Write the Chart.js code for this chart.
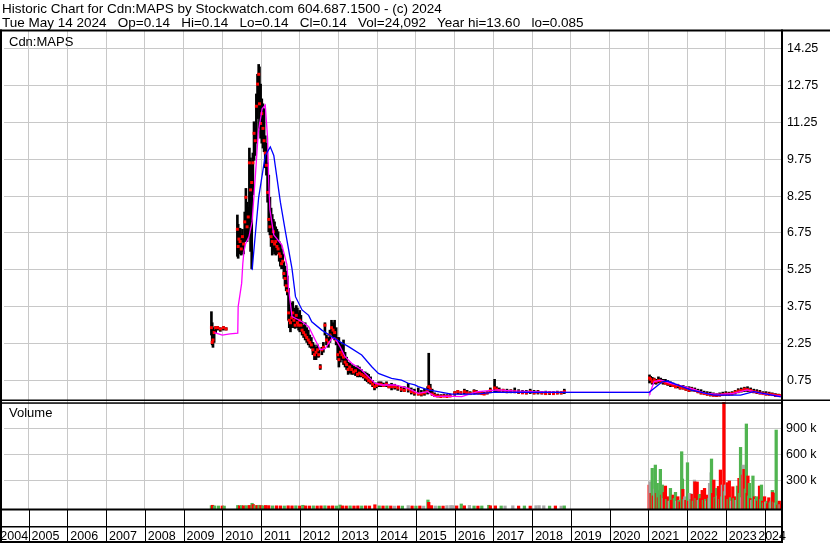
<!DOCTYPE html>
<html>
<head>
<meta charset="utf-8">
<title>Historic Chart Cdn:MAPS</title>
<script src="https://cdn.jsdelivr.net/npm/chart.js@4.4.1/dist/chart.umd.min.js"></script>
<style>
	body { margin: 0; background: #fff; }
	#root { position: relative; width: 830px; height: 543px; overflow: hidden; }
	.hdr { position: absolute; left: 2px; font: 13.5px 'Liberation Sans', Arial, sans-serif; line-height: 16px; white-space: pre; color: #000; }
</style>
</head>
<body>
<div id="root">
	<canvas id="main-chart" width="830" height="543"></canvas>
	<div class="hdr" style="top:1px">Historic Chart for Cdn:MAPS by Stockwatch.com 604.687.1500 - (c) 2024</div>
	<div class="hdr" style="top:14.5px">Tue May 14 2024   Op=0.14   Hi=0.14   Lo=0.14   Cl=0.14   Vol=24,092   Year hi=13.60   lo=0.085</div>
</div>
<script>
// tick labels
var yearTicks = [2005, 2006, 2007, 2008, 2009, 2010, 2011, 2012, 2013, 2014, 2015, 2016, 2017, 2018, 2019, 2020, 2021, 2022, 2023, 2024];
var yearLabels = ['2004', '2005', '2006', '2007', '2008', '2009', '2010', '2011', '2012', '2013', '2014', '2015', '2016', '2017', '2018', '2019', '2020', '2021', '2022', '2023', '2024'];
var priceTicks = [0.75, 1.5, 2.25, 3, 3.75, 4.5, 5.25, 6, 6.75, 7.5, 8.25, 9, 9.75, 10.5, 11.25, 12, 12.75, 13.5, 14.25];
var volTicks = [300, 600, 900];

// price bars (decimal year, high, low, close)
var barYears = [
	2009.72, 2009.74, 2009.76, 2009.79, 2009.83, 2009.88, 2009.95, 2010.03, 2010.10,
	2010.39, 2010.41, 2010.43, 2010.46, 2010.49, 2010.52, 2010.55, 2010.58, 2010.61, 2010.64, 2010.67, 2010.70, 2010.73, 2010.76, 2010.79, 2010.82, 2010.85, 2010.88, 2010.91, 2010.94, 2010.96, 2010.99,
	2011.02, 2011.05, 2011.08, 2011.11, 2011.14, 2011.17, 2011.20, 2011.23, 2011.26, 2011.29, 2011.32, 2011.35, 2011.38, 2011.41, 2011.44, 2011.47, 2011.50, 2011.53, 2011.56, 2011.59, 2011.62, 2011.65, 2011.68, 2011.71, 2011.73, 2011.76, 2011.79, 2011.82, 2011.85, 2011.88, 2011.91, 2011.94, 2011.97,
	2012.00, 2012.03, 2012.06, 2012.10, 2012.14, 2012.18, 2012.22, 2012.26, 2012.30, 2012.34, 2012.38, 2012.42, 2012.46, 2012.49, 2012.53, 2012.57, 2012.61, 2012.65, 2012.69, 2012.74, 2012.78, 2012.82, 2012.86, 2012.90, 2012.94, 2012.98,
	2013.01, 2013.05, 2013.09, 2013.13, 2013.17, 2013.21, 2013.25, 2013.29, 2013.34, 2013.39, 2013.44, 2013.49, 2013.54, 2013.59, 2013.64, 2013.69, 2013.74, 2013.78, 2013.83, 2013.88, 2013.93, 2013.98,
	2014.04, 2014.10, 2014.16, 2014.24, 2014.30, 2014.37, 2014.45, 2014.53, 2014.62, 2014.70, 2014.80, 2014.88, 2014.96,
	2015.06, 2015.14, 2015.22, 2015.30, 2015.33, 2015.37, 2015.42, 2015.48, 2015.56, 2015.64, 2015.72, 2015.80, 2015.88,
	2016.00, 2016.08, 2016.16, 2016.25, 2016.32, 2016.40, 2016.50, 2016.56, 2016.62, 2016.70, 2016.76, 2016.84, 2016.92,
	2017.03, 2017.08, 2017.15, 2017.25, 2017.35, 2017.45, 2017.55, 2017.65, 2017.75, 2017.85, 2017.95,
	2018.05, 2018.15, 2018.25, 2018.35, 2018.45, 2018.55, 2018.65, 2018.75, 2018.83,
	2021.03, 2021.06, 2021.10, 2021.15, 2021.20, 2021.26, 2021.32, 2021.38, 2021.44, 2021.50, 2021.57, 2021.64, 2021.70, 2021.76, 2021.82, 2021.90, 2021.97,
	2022.05, 2022.12, 2022.20, 2022.28, 2022.36, 2022.44, 2022.52, 2022.60, 2022.68, 2022.76, 2022.84, 2022.92,
	2023.00, 2023.08, 2023.16, 2023.24, 2023.32, 2023.40, 2023.48, 2023.56, 2023.64, 2023.72, 2023.80, 2023.88, 2023.96,
	2024.04, 2024.12, 2024.20, 2024.28, 2024.36, 2024.44
];
var barHigh = [
	3.55, 3.1, 2.9, 2.8, 2.95, 2.95, 2.9, 2.95, 2.9,
	7.48, 7.1, 6.8, 6.94, 6.7, 6.9, 6.6, 7.6, 8.56, 8.0, 7.8, 10.2, 9.8, 9.5, 10.0, 11.27, 11.0, 12.4, 13.2, 13.6, 13.5, 12.8,
	12.2, 12.0, 11.8, 10.7, 10.4, 9.6, 9.1, 8.2, 7.76, 7.5, 7.3, 7.2, 7.0, 6.9, 6.8, 6.4, 6.3, 6.1, 5.9, 5.58, 5.4, 5.2, 5.0, 4.5, 4.0, 3.8, 3.9, 3.96, 3.7, 3.6, 3.8, 3.7, 3.5,
	3.6, 3.4, 3.14, 3.0, 3.1, 2.9, 2.8, 2.6, 2.5, 2.3, 2.2, 2.1, 2.2, 2.0, 1.4, 2.1, 2.3, 3.1, 2.6, 2.5, 2.8, 3.2, 3.1, 3.2, 2.9, 2.5,
	2.5, 2.3, 2.2, 2.4, 1.9, 1.7, 1.5, 1.46, 1.4, 1.35, 1.3, 1.35, 1.3, 1.2, 1.1, 1.1, 1.05, 1.0, 0.9, 0.75, 0.65, 0.65,
	0.7, 0.7, 0.65, 0.7, 0.6, 0.64, 0.6, 0.55, 0.5, 0.5, 0.64, 0.45, 0.4,
	0.45, 0.35, 0.4, 0.5, 1.86, 0.6, 0.4, 0.25, 0.2, 0.18, 0.2, 0.18, 0.2,
	0.3, 0.35, 0.3, 0.4, 0.35, 0.3, 0.38, 0.35, 0.3, 0.3, 0.28, 0.3, 0.45,
	0.8, 0.5, 0.45, 0.4, 0.4, 0.38, 0.45, 0.38, 0.35, 0.35, 0.4,
	0.35, 0.35, 0.3, 0.32, 0.3, 0.3, 0.32, 0.3, 0.4,
	0.98, 0.92, 0.88, 0.85, 0.8, 0.9, 0.85, 0.8, 0.8, 0.75, 0.7, 0.65, 0.6, 0.6, 0.55, 0.55, 0.5,
	0.5, 0.48, 0.45, 0.4, 0.38, 0.32, 0.3, 0.28, 0.25, 0.22, 0.25, 0.28,
	0.3, 0.28, 0.3, 0.35, 0.42, 0.45, 0.48, 0.5, 0.45, 0.4, 0.38, 0.35, 0.3,
	0.3, 0.28, 0.25, 0.22, 0.2, 0.15
];
var barLow = [
	2.6, 2.2, 2.1, 2.3, 2.7, 2.8, 2.75, 2.8, 2.8,
	5.8, 5.72, 5.9, 6.0, 5.85, 6.0, 5.9, 6.4, 7.2, 6.4, 6.6, 7.0, 6.0, 5.3, 8.3, 9.7, 9.9, 10.4, 11.4, 12.0, 11.0, 10.6,
	10.4, 10.2, 10.05, 9.4, 9.1, 8.0, 6.8, 6.67, 6.2, 5.85, 6.0, 5.9, 5.85, 6.0, 5.9, 5.6, 5.4, 5.3, 5.3, 4.9, 4.6, 4.4, 4.23, 3.2, 2.9, 2.73, 2.9, 3.0, 2.9, 2.87, 3.0, 2.9, 2.8,
	2.73, 2.8, 2.6, 2.5, 2.4, 2.3, 2.2, 2.1, 2.06, 1.8, 1.6, 1.6, 1.7, 1.7, 1.2, 1.8, 1.9, 2.6, 2.2, 2.1, 2.3, 2.6, 2.5, 2.4, 2.2, 1.6,
	1.3, 1.5, 1.6, 1.4, 1.3, 1.2, 1.0, 1.05, 1.0, 1.0, 0.95, 0.9, 0.9, 0.9, 0.85, 0.75, 0.7, 0.64, 0.6, 0.5, 0.37, 0.45,
	0.5, 0.5, 0.5, 0.5, 0.45, 0.37, 0.4, 0.35, 0.3, 0.3, 0.28, 0.2, 0.15,
	0.16, 0.12, 0.15, 0.2, 0.25, 0.25, 0.15, 0.1, 0.09, 0.085, 0.09, 0.09, 0.1,
	0.15, 0.2, 0.18, 0.2, 0.2, 0.18, 0.2, 0.22, 0.2, 0.18, 0.18, 0.2, 0.25,
	0.3, 0.3, 0.3, 0.28, 0.25, 0.25, 0.25, 0.22, 0.22, 0.2, 0.22,
	0.2, 0.2, 0.2, 0.18, 0.18, 0.2, 0.2, 0.2, 0.22,
	0.65, 0.7, 0.6, 0.62, 0.6, 0.65, 0.65, 0.6, 0.6, 0.55, 0.5, 0.5, 0.45, 0.45, 0.4, 0.4, 0.35,
	0.3, 0.32, 0.3, 0.25, 0.2, 0.18, 0.15, 0.12, 0.12, 0.1, 0.12, 0.14,
	0.15, 0.15, 0.16, 0.2, 0.25, 0.28, 0.3, 0.3, 0.28, 0.25, 0.22, 0.2, 0.18,
	0.16, 0.15, 0.14, 0.1, 0.1, 0.12
];
var barClose = [
	2.9, 2.3, 2.4, 2.7, 2.9, 2.9, 2.85, 2.9, 2.85,
	6.9, 6.2, 6.5, 6.4, 6.1, 6.6, 6.3, 7.2, 8.2, 7.0, 7.4, 9.6, 8.5, 8.8, 9.6, 10.8, 10.5, 11.9, 12.8, 13.2, 12.0, 11.2,
	11.6, 11.0, 10.5, 10.0, 9.5, 8.4, 7.3, 7.0, 6.6, 6.4, 6.8, 6.3, 6.4, 6.2, 6.1, 5.9, 5.8, 5.5, 5.6, 5.1, 4.9, 4.6, 4.4, 3.5, 3.2, 3.1, 3.3, 3.5, 3.2, 3.0, 3.4, 3.1, 3.0,
	3.2, 3.0, 2.8, 2.7, 2.6, 2.5, 2.4, 2.3, 2.2, 2.0, 1.8, 1.9, 2.0, 1.8, 1.3, 2.0, 2.1, 3.0, 2.4, 2.3, 2.6, 2.9, 2.8, 2.7, 2.4, 1.8,
	1.6, 1.9, 1.8, 1.7, 1.5, 1.4, 1.2, 1.3, 1.2, 1.1, 1.15, 1.0, 1.05, 1.0, 0.95, 0.9, 0.85, 0.75, 0.7, 0.6, 0.5, 0.55,
	0.6, 0.6, 0.55, 0.6, 0.5, 0.5, 0.5, 0.45, 0.4, 0.35, 0.4, 0.3, 0.25,
	0.2, 0.2, 0.25, 0.35, 0.5, 0.4, 0.2, 0.15, 0.12, 0.1, 0.12, 0.1, 0.12,
	0.25, 0.3, 0.25, 0.3, 0.25, 0.22, 0.3, 0.28, 0.25, 0.22, 0.2, 0.25, 0.35,
	0.45, 0.4, 0.35, 0.35, 0.3, 0.32, 0.3, 0.28, 0.25, 0.25, 0.3,
	0.25, 0.28, 0.25, 0.22, 0.25, 0.22, 0.25, 0.25, 0.3,
	0.85, 0.8, 0.7, 0.78, 0.7, 0.75, 0.72, 0.7, 0.65, 0.62, 0.6, 0.55, 0.5, 0.55, 0.45, 0.45, 0.4,
	0.35, 0.4, 0.35, 0.3, 0.25, 0.22, 0.2, 0.18, 0.15, 0.15, 0.16, 0.18,
	0.2, 0.2, 0.22, 0.28, 0.32, 0.35, 0.4, 0.38, 0.35, 0.3, 0.28, 0.25, 0.22,
	0.2, 0.2, 0.18, 0.15, 0.14, 0.14
];

// short moving average (pink)
var pinkYears = [2009.80, 2010.00, 2010.20, 2010.40, 2010.41, 2010.50, 2010.53, 2010.56, 2010.60, 2010.69, 2010.77, 2010.86, 2010.93, 2011.03, 2011.11, 2011.17, 2011.20, 2011.23, 2011.33, 2011.54, 2011.67, 2011.71, 2011.80, 2012.06, 2012.23, 2012.40, 2012.53, 2012.66, 2012.83, 2012.91, 2013.04, 2013.17, 2013.34, 2013.60, 2013.77, 2013.94, 2014.12, 2014.46, 2014.80, 2015.06, 2015.30, 2015.49, 2015.80, 2016.18, 2016.60, 2017.12, 2017.50, 2018.00, 2018.83, 2021.02, 2021.04, 2021.15, 2021.32, 2021.57, 2021.92, 2022.18, 2022.45, 2022.86, 2023.20, 2023.55, 2023.90, 2024.42];
var pinkValues = [2.7, 2.6, 2.65, 2.68, 3.75, 4.7, 5.5, 6.0, 6.3, 6.6, 7.2, 9.2, 10.85, 11.8, 11.95, 10.6, 8.8, 7.7, 6.67, 6.26, 5.45, 4.5, 3.35, 3.14, 2.94, 2.4, 2.0, 2.06, 2.47, 2.47, 2.13, 1.72, 1.45, 1.18, 0.91, 0.64, 0.57, 0.57, 0.43, 0.23, 0.3, 0.1, 0.12, 0.1, 0.3, 0.37, 0.33, 0.3, 0.27, 0.27, 0.23, 0.71, 0.77, 0.64, 0.5, 0.39, 0.23, 0.19, 0.23, 0.37, 0.23, 0.12];

// long moving average (blue)
var blueYears = [2010.77, 2010.94, 2011.11, 2011.24, 2011.33, 2011.50, 2011.63, 2011.80, 2011.89, 2012.06, 2012.23, 2012.31, 2012.57, 2012.83, 2013.04, 2013.26, 2013.60, 2013.86, 2014.03, 2014.37, 2014.63, 2014.80, 2014.97, 2015.06, 2015.32, 2015.92, 2016.56, 2017.03, 2018.83, 2021.02, 2021.36, 2021.49, 2021.75, 2022.09, 2022.69, 2023.38, 2023.72, 2024.06, 2024.42];
var blueValues = [5.24, 8.2, 9.9, 10.25, 9.9, 8.0, 6.8, 5.3, 4.16, 3.62, 3.4, 3.14, 2.8, 2.53, 2.33, 2.13, 1.79, 1.31, 1.04, 0.84, 0.77, 0.64, 0.57, 0.5, 0.37, 0.2, 0.2, 0.28, 0.27, 0.27, 0.7, 0.73, 0.57, 0.37, 0.16, 0.16, 0.3, 0.2, 0.09];

// volume in thousands, direction of the day
var volYears = [
	2009.72, 2009.75, 2009.80, 2009.90, 2010.00, 2010.05, 2010.40, 2010.45, 2010.50, 2010.55, 2010.62, 2010.70, 2010.77, 2010.80, 2010.85, 2010.90, 2010.95,
	2011.00, 2011.05, 2011.12, 2011.20, 2011.30, 2011.40, 2011.50, 2011.60, 2011.70, 2011.80, 2011.90,
	2012.00, 2012.08, 2012.15, 2012.25, 2012.35, 2012.45, 2012.55, 2012.65, 2012.75, 2012.85, 2012.95,
	2013.04, 2013.10, 2013.20, 2013.30, 2013.40, 2013.50, 2013.60, 2013.70, 2013.80, 2013.94,
	2014.05, 2014.15, 2014.25, 2014.35, 2014.45, 2014.55, 2014.65, 2014.80, 2014.90,
	2015.00, 2015.10, 2015.20, 2015.31, 2015.33, 2015.40, 2015.50, 2015.60, 2015.70, 2015.80, 2015.90, 2015.96,
	2016.05, 2016.17, 2016.25, 2016.38, 2016.50, 2016.60, 2016.70, 2016.88, 2016.92,
	2017.05, 2017.20, 2017.30, 2017.50, 2017.65, 2017.80, 2017.95,
	2018.10, 2018.18, 2018.30, 2018.45, 2018.60, 2018.75, 2018.83,
	2021.02, 2021.04, 2021.07, 2021.10, 2021.13, 2021.16, 2021.18, 2021.21, 2021.23, 2021.26, 2021.28, 2021.31, 2021.34, 2021.36, 2021.39, 2021.41, 2021.44, 2021.47, 2021.51, 2021.54, 2021.57, 2021.60, 2021.64, 2021.67, 2021.70, 2021.73, 2021.76, 2021.79, 2021.82, 2021.86, 2021.88, 2021.89, 2021.92, 2021.94, 2021.97,
	2022.01, 2022.04, 2022.07, 2022.10, 2022.13, 2022.16, 2022.19, 2022.20, 2022.23, 2022.26, 2022.29, 2022.32, 2022.35, 2022.39, 2022.42, 2022.45, 2022.48, 2022.51, 2022.53, 2022.56, 2022.58, 2022.62, 2022.63, 2022.66, 2022.69, 2022.72, 2022.74, 2022.76, 2022.79, 2022.81, 2022.84, 2022.86, 2022.89, 2022.91, 2022.95, 2022.97, 2022.99,
	2023.01, 2023.04, 2023.06, 2023.09, 2023.12, 2023.15, 2023.18, 2023.21, 2023.25, 2023.27, 2023.30, 2023.34, 2023.36, 2023.38, 2023.41, 2023.43, 2023.45, 2023.47, 2023.50, 2023.53, 2023.55, 2023.57, 2023.59, 2023.61, 2023.64, 2023.67, 2023.70, 2023.72, 2023.74, 2023.77, 2023.79, 2023.82, 2023.85, 2023.87, 2023.90, 2023.92, 2023.95, 2023.97,
	2024.00, 2024.03, 2024.06, 2024.08, 2024.11, 2024.14, 2024.17, 2024.20, 2024.21, 2024.23, 2024.25, 2024.28, 2024.30, 2024.32, 2024.34, 2024.36, 2024.38, 2024.40, 2024.43
];
var volK = [
	8, 12, 5, 4, 4, 3, 10, 6, 8, 6, 8, 10, 35, 20, 8, 10, 12,
	8, 6, 10, 8, 5, 6, 5, 4, 6, 5, 6,
	4, 12, 5, 4, 5, 4, 5, 6, 4, 5, 4,
	15, 5, 4, 5, 4, 5, 4, 5, 4, 18,
	5, 4, 5, 4, 3, 4, 3, 8, 4,
	3, 4, 3, 73, 46, 8, 4, 3, 3, 8, 9, 8,
	5, 27, 6, 10, 4, 3, 4, 12, 6,
	5, 4, 4, 6, 3, 4, 3,
	7, 8, 6, 3, 4, 3, 5,
	245, 284, 150, 438, 120, 200, 476, 150, 265, 100, 180, 427, 130, 246, 90, 160, 234, 80, 111, 60, 207, 70, 130, 90, 161, 60, 111, 70, 50, 630, 315, 196, 80, 110, 70,
	503, 60, 150, 80, 140, 60, 303, 281, 90, 281, 70, 138, 90, 184, 70, 207, 80, 60, 130, 90, 265, 388, 546, 150, 303, 100, 90, 207, 120, 230, 80, 419, 110, 246, 1240, 170, 246,
	120, 273, 80, 292, 100, 60, 226, 90, 111, 70, 234, 323, 150, 680, 100, 361, 476, 427, 200, 950, 150, 350, 120, 265, 90, 70, 350, 60, 111, 80, 111, 60, 70, 234, 80, 246, 60, 40,
	111, 50, 60, 30, 99, 40, 60, 184, 160, 50, 150, 40, 880, 30, 15, 40, 60, 20, 24
];
var volDir = [
	'up', 'down', 'up', 'up', 'down', 'up', 'up', 'down', 'up', 'down', 'up', 'down', 'up', 'down', 'up', 'down', 'up',
	'down', 'up', 'down', 'down', 'up', 'down', 'down', 'up', 'down', 'down', 'up',
	'down', 'up', 'down', 'down', 'up', 'down', 'down', 'up', 'down', 'down', 'up',
	'up', 'down', 'down', 'up', 'down', 'down', 'up', 'down', 'down', 'down',
	'up', 'down', 'up', 'down', 'flat', 'down', 'up', 'flat', 'down',
	'up', 'down', 'flat', 'up', 'down', 'down', 'flat', 'up', 'down', 'flat', 'flat', 'flat',
	'down', 'up', 'down', 'flat', 'up', 'down', 'up', 'up', 'down',
	'down', 'up', 'flat', 'flat', 'down', 'up', 'down',
	'flat', 'flat', 'flat', 'up', 'down', 'flat', 'up',
	'down', 'flat', 'down', 'up', 'down', 'flat', 'up', 'down', 'up', 'down', 'up', 'up', 'down', 'up', 'flat', 'down', 'down', 'up', 'down', 'flat', 'up', 'down', 'down', 'up', 'up', 'flat', 'down', 'up', 'down', 'up', 'up', 'down', 'up', 'flat', 'down',
	'up', 'down', 'flat', 'up', 'down', 'up', 'flat', 'down', 'up', 'down', 'flat', 'up', 'down', 'down', 'up', 'down', 'up', 'flat', 'down', 'up', 'flat', 'flat', 'up', 'down', 'down', 'up', 'down', 'up', 'flat', 'down', 'up', 'down', 'up', 'flat', 'down', 'up', 'flat',
	'down', 'down', 'up', 'down', 'up', 'flat', 'down', 'up', 'down', 'flat', 'up', 'down', 'up', 'up', 'flat', 'down', 'flat', 'down', 'up', 'up', 'down', 'down', 'up', 'up', 'down', 'flat', 'up', 'up', 'down', 'flat', 'up', 'down', 'up', 'down', 'up', 'up', 'down', 'up',
	'down', 'flat', 'up', 'down', 'down', 'up', 'flat', 'up', 'down', 'up', 'down', 'flat', 'up', 'up', 'down', 'up', 'down', 'flat', 'down'
];

var dirColors = { up: '#50b450', down: '#ff0000', flat: '#a8a8a8' };
var FONT = "'Liberation Sans', Arial, sans-serif";

Chart.defaults.font.family = FONT;
Chart.defaults.color = '#000';

function pairs(xs, ys) {
	return xs.map(function (x, i) { return { x: x, y: ys[i] }; });
}

// borders, panel captions and the year row under the chart
var frame = {
	id: 'frame',
	afterDraw: function (chart) {
		var ctx = chart.ctx;
		var xs = chart.scales.x;
		ctx.save();
		ctx.fillStyle = '#000';
		ctx.fillRect(0, 29.5, 830, 2);
		ctx.fillRect(0, 29.5, 2, 513);
		ctx.fillRect(781, 29.5, 2, 513.5);
		ctx.fillRect(0, 399.5, 830, 1.5);
		ctx.fillRect(0, 402.3, 782, 1.5);
		ctx.fillRect(0, 508.5, 782, 2);
		ctx.fillRect(0, 526, 782, 1.5);
		ctx.fillRect(0, 541, 782, 2);
		yearTicks.forEach(function (y) {
			var px = Math.round(xs.getPixelForValue(y));
			ctx.fillRect(px, 510, 1, 32);
		});

		ctx.font = '13px ' + FONT;
		ctx.textBaseline = 'alphabetic';
		ctx.textAlign = 'left';
		ctx.fillText('Cdn:MAPS', 9, 45.5);
		ctx.fillText('Volume', 9, 417.3);

		ctx.font = '12.5px ' + FONT;
		yearLabels.forEach(function (lab, i) {
			if (i === 0) {
				ctx.textAlign = 'right';
				ctx.fillText(lab, xs.getPixelForValue(yearTicks[0]) - 0.5, 539.5);
			} else if (i === yearLabels.length - 1) {
				ctx.textAlign = 'right';
				ctx.fillText(lab, 786, 539.5);
			} else {
				ctx.textAlign = 'left';
				ctx.fillText(lab, xs.getPixelForValue(yearTicks[i - 1]) + 3, 539.5);
			}
		});
		ctx.restore();
	}
};

// clip is relative to each dataset's own panel
var volClip = { left: 0, top: -3, right: 0, bottom: 0 };

var chart = new Chart(document.getElementById('main-chart'), {
	type: 'bar',
	data: {
		datasets: [
			{
				type: 'line', label: 'long', order: 0, yAxisID: 'y',
				data: pairs(blueYears, blueValues),
				borderColor: '#0000ff', borderWidth: 1.3, pointRadius: 0, tension: 0
			},
			{
				type: 'line', label: 'short', order: 1, yAxisID: 'y',
				data: pairs(pinkYears, pinkValues),
				borderColor: '#ff00ff', borderWidth: 1.3, pointRadius: 0, tension: 0
			},
			{
				type: 'line', label: 'close', order: 2, yAxisID: 'y',
				data: pairs(barYears, barClose),
				showLine: false, pointStyle: 'rect', pointRadius: 2.1, borderWidth: 0,
				backgroundColor: '#ff0000'
			},
			{
				label: 'range', order: 3, yAxisID: 'y', grouped: false,
				data: barYears.map(function (x, i) { return { x: x, y: [barLow[i], barHigh[i]] }; }),
				backgroundColor: '#000', barThickness: 2
			},
			{
				label: 'volume', order: 4, yAxisID: 'v', grouped: false, base: -31,
				data: pairs(volYears, volK),
				backgroundColor: volDir.map(function (d) { return dirColors[d]; }),
				barThickness: 2.6, clip: volClip
			}
		]
	},
	options: {
		responsive: false,
		animation: false,
		events: [],
		layout: { padding: { top: 30, left: 1, right: 0, bottom: 34 } },
		plugins: { legend: { display: false }, tooltip: { enabled: false } },
		scales: {
			x: {
				type: 'linear', position: 'bottom', min: 2004.365, max: 2024.45, offset: false,
				afterBuildTicks: function (s) { s.ticks = yearTicks.map(function (v) { return { value: v }; }); },
				afterFit: function (s) { s.height = 0; },
				ticks: { display: false },
				border: { display: false },
				grid: { color: '#c8c8c8', lineWidth: 1, drawTicks: false, offset: false }
			},
			y: {
				type: 'linear', position: 'right', stack: 'panels', stackWeight: 369, min: 0, max: 15,
				afterBuildTicks: function (s) { s.ticks = priceTicks.map(function (v) { return { value: v }; }); },
				afterFit: function (s) { s.width = 48; },
				ticks: { padding: 5, font: { size: 12.5 }, callback: function (v) { return v.toFixed(2); } },
				border: { display: false },
				grid: { color: '#c8c8c8', lineWidth: 1, drawTicks: false }
			},
			v: {
				type: 'linear', position: 'right', stack: 'panels', stackWeight: 110, min: -31, max: 1238,
				afterBuildTicks: function (s) { s.ticks = volTicks.map(function (v) { return { value: v }; }); },
				afterFit: function (s) { s.width = 48; },
				ticks: { padding: 4, font: { size: 12.5 }, callback: function (v) { return v + ' k'; } },
				border: { display: false },
				grid: { color: '#c8c8c8', lineWidth: 1, drawTicks: false }
			}
		}
	},
	plugins: [frame]
});
</script>
</body>
</html>
